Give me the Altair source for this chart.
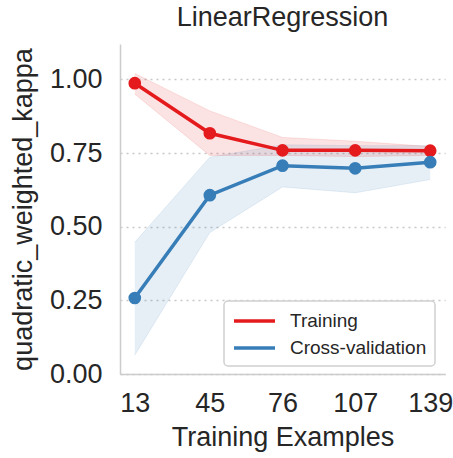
import altair as alt
import pandas as pd

sizes = [13, 45, 76, 107, 139]
train_mean = [0.987, 0.817, 0.759, 0.759, 0.758]
train_lo = [0.950, 0.742, 0.742, 0.738, 0.742]
train_hi = [1.020, 0.893, 0.803, 0.790, 0.772]
cv_mean = [0.258, 0.607, 0.707, 0.698, 0.719]
cv_lo = [0.064, 0.480, 0.635, 0.615, 0.660]
cv_hi = [0.447, 0.736, 0.778, 0.775, 0.775]
series = ["Training", "Cross-validation"]
colors = ["#e41a1c", "#377eb8"]

rows = []
for name, m, lo, hi in [(series[0], train_mean, train_lo, train_hi),
                        (series[1], cv_mean, cv_lo, cv_hi)]:
    for i, s in enumerate(sizes):
        rows.append({"size": s, "score": m[i], "lo": lo[i], "hi": hi[i], "series": name})
df = pd.DataFrame(rows)

FONT = "Liberation Sans"
xscale = alt.Scale(domain=[6.7, 145.3], nice=False, zero=False)
yscale = alt.Scale(domain=[0, 1.12], nice=False)
cscale = alt.Scale(domain=series, range=colors)
col = alt.Color("series:N", scale=cscale, sort=series)

xax = alt.Axis(values=sizes, title="Training Examples", grid=False, ticks=False,
               labelPadding=16, titlePadding=8, format="d")
yax = alt.Axis(values=[0, 0.25, 0.5, 0.75, 1.0], title="quadratic_weighted_kappa",
               format=".2f", ticks=False, labelPadding=18, titlePadding=12,
               grid=True, gridDash=[2, 4], gridColor="#c8c8c8", gridWidth=1.5)

base = alt.Chart(df)

band = base.mark_area(opacity=0.12).encode(
    x=alt.X("size:Q", scale=xscale, axis=xax),
    y=alt.Y("lo:Q", scale=yscale, axis=yax),
    y2="hi:Q",
    color=col,
    detail="series:N",
)
edge_lo = base.mark_line(strokeWidth=1, opacity=0.12).encode(
    x=alt.X("size:Q", scale=xscale), y=alt.Y("lo:Q", scale=yscale), color=col)
edge_hi = base.mark_line(strokeWidth=1, opacity=0.12).encode(
    x=alt.X("size:Q", scale=xscale), y=alt.Y("hi:Q", scale=yscale), color=col)

line = base.mark_line(strokeWidth=3.5).encode(
    x=alt.X("size:Q", scale=xscale),
    y=alt.Y("score:Q", scale=yscale),
    color=col,
)

pts = base.mark_circle(size=160, opacity=1).encode(
    x=alt.X("size:Q", scale=xscale),
    y=alt.Y("score:Q", scale=yscale),
    color=col,
)

chart = alt.layer(band, edge_lo, edge_hi, line, pts).properties(
    width=325, height=330,
    title=alt.TitleParams("LinearRegression", font=FONT, fontSize=27, fontWeight="normal",
                          color="#262626", offset=12),
    autosize=alt.AutoSizeParams(type="none"),
    padding={"left": 120, "top": 44, "right": 8, "bottom": 84},
).configure_view(stroke=None).configure_axis(
    labelFont=FONT, titleFont=FONT, labelFontSize=27, titleFontSize=27,
    labelColor="#262626", titleColor="#262626", titleFontWeight="normal",
    domainColor="#cccccc", domainWidth=1.5,
).configure_axisX(grid=False).configure_legend(
    orient="none", legendX=104, legendY=257, title=None,
    symbolType="M-1,0H3.1", symbolSize=400, symbolStrokeWidth=3.5, symbolOpacity=1,
    labelFontSize=19, labelFont=FONT, labelColor="#262626",
    rowPadding=5, padding=8, fillColor="white", strokeColor="#d0d0d0",
    strokeWidth=1.5, cornerRadius=4, labelOffset=34,
)

chart.save("out.html", embed_options={"renderer": "svg", "actions": False})
